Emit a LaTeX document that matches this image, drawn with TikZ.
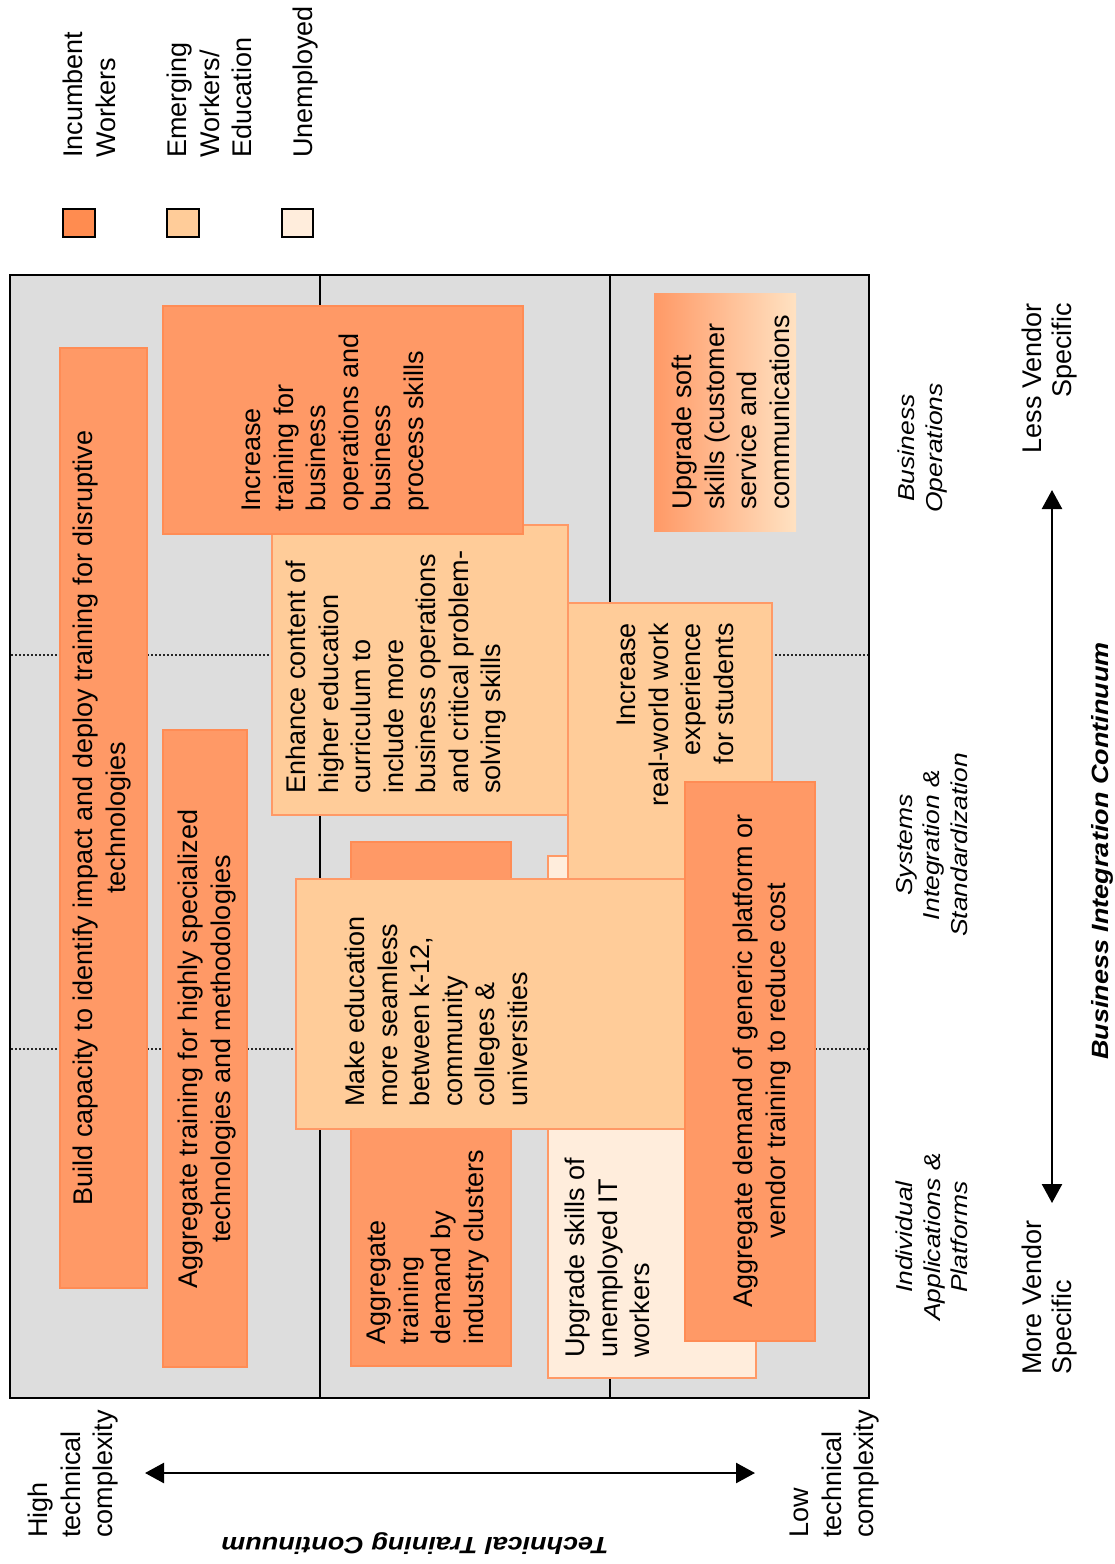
\documentclass[tikz,border=0pt]{standalone}
\usepackage{fontspec}
\setmainfont{Liberation Sans}
\newfontfamily\labfont[FakeStretch=1.15]{Liberation Sans}
\usetikzlibrary{arrows.meta,fit}
\definecolor{cInc}{RGB}{255,153,102}
\definecolor{cIncLine}{RGB}{255,140,85}
\definecolor{cEme}{RGB}{255,204,153}
\definecolor{cUne}{RGB}{255,237,220}
\definecolor{cGrey}{RGB}{221,221,221}
\definecolor{cSoftR}{RGB}{255,226,194}
\definecolor{cLegInc}{RGB}{255,140,80}
\begin{document}
\begin{tikzpicture}[x=1pt,y=-1pt,
  boxbase/.style={inner sep=0pt, outer sep=0pt, line width=1.5pt},
  incbox/.style={boxbase, draw=cIncLine, fill=cInc},
  emebox/.style={boxbase, draw=cInc, fill=cEme},
  unebox/.style={boxbase, draw=cInc, fill=cUne},
  softbox/.style={boxbase, draw=none, left color=cInc, right color=cSoftR},
  framebox/.style={inner sep=0pt, outer sep=0pt, line width=2.5pt, draw=black, fill=cGrey},
  legsq/.style={inner sep=0pt, outer sep=0pt, line width=2pt, draw=black},
  btext/.style={rotate=90, inner sep=0pt, align=left, font=\fontsize{27}{32.5}\selectfont},
  labtext/.style={rotate=90, inner sep=0pt, align=center, font=\labfont\itshape\fontsize{23}{27.5}\selectfont},
  titlefont/.style={inner sep=0pt, align=center, font=\labfont\bfseries\itshape\fontsize{23.5}{28}\selectfont},
  solidline/.style={line width=1.5pt, draw=black},
  dotline/.style={line width=1.3pt, draw=black!85, dash pattern=on 2pt off 2pt},
  axisarrow/.style={line width=2.5pt, {Triangle[length=19pt,width=20pt]}-{Triangle[length=19pt,width=20pt]}}
]
\useasboundingbox (0,0) rectangle (1115,1564);

% frame
\node[framebox, fit={(10,275) (869,1398)}] (frame) {};

% grid lines
\coordinate (va1) at (320,275); \coordinate (vb1) at (320,1398);
\coordinate (va2) at (610,275); \coordinate (vb2) at (610,1398);
\coordinate (ha1) at (11,655);  \coordinate (hb1) at (868,655);
\coordinate (ha2) at (11,1049); \coordinate (hb2) at (868,1049);
\draw[solidline] (va1) -- (vb1);
\draw[solidline] (va2) -- (vb2);
\draw[dotline] (ha1) -- (hb1);
\draw[dotline] (ha2) -- (hb2);

% boxes
\node[incbox, fit={(60,348) (147,1288)}] (b1) {};
\node[incbox, fit={(163,730) (247,1367)}] (b2) {};
\node[emebox, fit={(272,525) (568,815)}] (b4) {};
\node[incbox, fit={(163,306) (523,534)}] (b3) {};
\node[incbox, fit={(351,842) (511,1366)}] (b6) {};
\node[unebox, fit={(548,856) (756,1378)}] (b7) {};
\node[emebox, fit={(568,603) (772,900)}] (b8) {};
\node[emebox, fit={(296,879) (700,1129)}] (b5) {};
\node[incbox, fit={(685,782) (815,1341)}] (b9) {};
\node[softbox, fit={(654,293) (796,531)}] (b10) {};

% box texts
\node[btext, anchor=center, align=center] (t1) at (102,818) {Build capacity to identify impact and deploy training for disruptive\\technologies};
\node[btext, anchor=center, align=center] (t2) at (207,1049) {Aggregate training for highly specialized\\technologies and methodologies};
\node[btext, anchor=north west] (t3) at (242,512) {Increase\\training for\\business\\operations and\\business\\process skills};
\node[btext, anchor=north west] (t4) at (286,794) {Enhance content of\\higher education\\curriculum to\\include more\\business operations\\and critical problem-\\solving skills};
\node[btext, anchor=north west] (t5) at (345,1107) {Make education\\more seamless\\between k-12,\\community\\colleges \&\\universities};
\node[btext, anchor=north west] (t6) at (367,1345) {Aggregate\\training\\demand by\\industry clusters};
\node[btext, anchor=north west] (t7) at (565,1358) {Upgrade skills of\\unemployed IT\\workers};
\node[btext, anchor=north east, align=right] (t8) at (617,623) {Increase\\real-world work\\experience\\for students};
\node[btext, anchor=center, align=center] (t9) at (762,1061) {Aggregate demand of generic platform or\\vendor training to reduce cost};
\node[btext, anchor=north west] (t10) at (672,510) {Upgrade soft\\skills (customer\\service and\\communications};

% legend
\node[legsq, fill=cLegInc, fit={(63,209) (95,237)}] (l1) {};
\node[legsq, fill=cEme, fit={(167,209) (199,237)}] (l2) {};
\node[legsq, fill=cUne, fit={(282,209) (313,237)}] (l3) {};
\node[btext, anchor=north west] (lt1) at (63,158) {Incumbent\\Workers};
\node[btext, anchor=north west] (lt2) at (167,158) {Emerging\\Workers/\\Education};
\node[btext, anchor=north west] (lt3) at (293,158) {Unemployed};

% right axis
\node[labtext, anchor=north] (ax1) at (896,1237) {Individual\\Applications \&\\Platforms};
\node[labtext, anchor=north] (ax2) at (896,845) {Systems\\Integration \&\\Standardization};
\node[labtext, anchor=north] (ax3) at (898,448) {Business\\Operations};
\node[btext, anchor=north east, align=right, font=\fontsize{27}{30}\selectfont] (lv) at (1022,303) {Less Vendor\\Specific};
\node[btext, anchor=north west, font=\fontsize{27}{30}\selectfont] (mv) at (1022,1375) {More Vendor\\Specific};
\coordinate (ra) at (1052,490); \coordinate (rb) at (1052,1203);
\draw[axisarrow] (ra) -- (rb);
\node[titlefont, rotate=90, anchor=north] (bic) at (1091,851) {Business Integration Continuum};

% bottom axis
\node[btext, anchor=north west] (hi) at (28,1538) {High\\technical\\complexity};
\node[btext, anchor=north west] (lo) at (790,1538) {Low\\technical\\complexity};
\coordinate (la) at (145,1473); \coordinate (lb) at (755,1473);
\draw[axisarrow] (la) -- (lb);
\node[titlefont, rotate=180, anchor=center] (ttc) at (415,1544) {Technical Training Continuum};
\end{tikzpicture}
\end{document}
